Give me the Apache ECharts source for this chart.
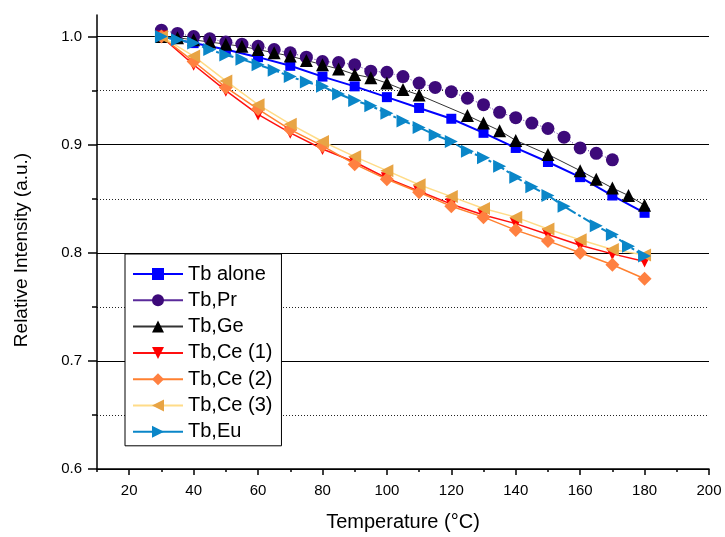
<!DOCTYPE html>
<html><head><meta charset="utf-8">
<script src="https://cdn.jsdelivr.net/npm/echarts@6/dist/echarts.min.js"></script>
<style>html,body{margin:0;padding:0;background:#fff}#c{width:725px;height:537px}</style>
</head><body><div id="c"></div>
<script>
const seriesNames = ['Tb alone','Tb,Pr','Tb,Ge','Tb,Ce (1)','Tb,Ce (2)','Tb,Ce (3)','Tb,Eu'];
const xTickLabels = [20,40,60,80,100,120,140,160,180,200];
const xMinorTicks = [10,30,50,70,90,110,130,150,170,190];
const yTickLabels = [0.6,0.7,0.8,0.9,1.0];
const yMinorTicks = [0.65,0.75,0.85,0.95];

const tbAloneX = [30,40,50,60,70,80,90,100,110,120,130,140,150,160,170,180];
const tbAloneY = [1.000,0.994,0.988,0.981,0.973,0.963,0.954,0.944,0.934,0.924,0.911,0.897,0.884,0.870,0.853,0.837];

const prX = [30,35,40,45,50,55,60,65,70,75,80,85,90,95,100,105,110,115,120,125,130,135,140,145,150,155,160,165,170];
const prY = [1.006,1.003,1.000,0.998,0.995,0.993,0.991,0.988,0.985,0.981,0.977,0.976,0.974,0.968,0.967,0.963,0.957,0.953,0.949,0.943,0.937,0.930,0.925,0.920,0.915,0.907,0.897,0.892,0.886];

const geX = [30,35,40,45,50,55,60,65,70,75,80,85,90,95,100,105,110,125,130,135,140,150,160,165,170,175,180];
const geY = [1.000,0.999,0.997,0.995,0.993,0.991,0.988,0.985,0.982,0.978,0.974,0.970,0.965,0.962,0.957,0.951,0.946,0.927,0.920,0.913,0.904,0.891,0.876,0.868,0.860,0.853,0.844];

const ceX = [30,40,50,60,70,80,90,100,110,120,130,140,150,160,170,180];
const ce1Y = [1.000,0.974,0.950,0.928,0.911,0.896,0.884,0.869,0.857,0.845,0.835,0.827,0.817,0.807,0.799,0.792];
const ce2Y = [1.000,0.977,0.953,0.933,0.914,0.899,0.882,0.868,0.856,0.843,0.833,0.821,0.811,0.800,0.789,0.776];
const ce3Y = [1.000,0.982,0.959,0.937,0.919,0.903,0.889,0.876,0.863,0.852,0.841,0.833,0.822,0.812,0.803,0.798];

const euX = [30,35,40,45,50,55,60,65,70,75,80,85,90,95,100,105,110,115,120,125,130,135,140,145,150,155,165,170,175,180];
const euY = [1.000,0.997,0.994,0.988,0.983,0.979,0.974,0.969,0.963,0.958,0.954,0.947,0.941,0.936,0.929,0.922,0.916,0.909,0.903,0.894,0.888,0.880,0.870,0.861,0.853,0.843,0.825,0.817,0.806,0.797];

const FONT = '"Liberation Sans", Arial, Helvetica, sans-serif';
function pts(xs, ys){ return xs.map((x,i)=>[x, ys[i]]); }
const TRI_DOWN = 'path://M0,0 L10,0 L5,9 Z';
const TRI_LEFT = 'path://M9,0 L9,10 L0,5 Z';
const TRI_RIGHT = 'path://M0,0 L9,5 L0,10 Z';

function mk(name, data, color, lineColor, symbol, size, width, type){
  return {
    name: name, type: 'line', data: data, xAxisIndex: 0, yAxisIndex: 0,
    symbol: symbol, symbolSize: size, showSymbol: true,
    itemStyle: {color: color, opacity: 1},
    lineStyle: {color: lineColor, width: width, type: type || 'solid'},
    emphasis: {disabled: true}, animation: false
  };
}

const chart = echarts.init(document.getElementById('c'));
chart.setOption({
  backgroundColor: '#fff',
  animation: false,
  grid: {left: 97, right: 16, top: 15, bottom: 66},
  xAxis: [
    {type: 'value', min: 10, max: 200, position: 'bottom',
     name: 'Temperature (\u00B0C)', nameLocation: 'middle', nameGap: 43,
     nameTextStyle: {fontFamily: FONT, fontSize: 20, color: '#000'},
     axisLine: {show: true, lineStyle: {color: '#000', width: 1.5}},
     axisTick: {show: true, length: 6, customValues: xTickLabels, lineStyle: {color: '#000', width: 1.5}},
     axisLabel: {customValues: xTickLabels, fontFamily: FONT, fontSize: 15, color: '#000', margin: 14},
     splitLine: {show: false}},
    {type: 'value', min: 10, max: 200, position: 'bottom',
     axisLine: {show: false},
     axisTick: {show: true, length: 3, customValues: xMinorTicks, lineStyle: {color: '#000', width: 1.5}},
     axisLabel: {show: false}, splitLine: {show: false}}
  ],
  yAxis: [
    {type: 'value', min: 0.6, max: 1.02, position: 'left',
     name: 'Relative Intensity (a.u.)', nameLocation: 'middle', nameGap: 66, nameRotate: 90,
     nameTextStyle: {fontFamily: FONT, fontSize: 19, color: '#000', padding: [0, 16, 0, 0]},
     axisLine: {show: true, lineStyle: {color: '#000', width: 1.5}},
     axisTick: {show: true, length: 9, customValues: yTickLabels, lineStyle: {color: '#000', width: 1.5}},
     axisLabel: {customValues: yTickLabels, formatter: v => Number(v).toFixed(1), fontFamily: FONT, fontSize: 15, color: '#000', margin: 15},
     splitLine: {show: true, lineStyle: {color: '#000', width: 1, type: 'solid'}}},
    {type: 'value', min: 0.6, max: 1.02, position: 'left',
     axisLine: {show: false},
     axisTick: {show: true, length: 5, customValues: yMinorTicks, lineStyle: {color: '#000', width: 1.5}},
     axisLabel: {show: false},
     splitLine: {show: true, lineStyle: {color: '#222', width: 1, type: [1, 2]}}}
  ],
  legend: {
    show: true, orient: 'vertical', left: 125, top: 254,
    data: seriesNames,
    itemWidth: 50, itemHeight: 15, itemGap: 6.3,
    backgroundColor: '#fff', borderColor: '#000', borderWidth: 1,
    padding: [10, 9, 4, 7],
    lineStyle: {type: 'solid'},
    textStyle: {fontFamily: FONT, fontSize: 20, color: '#000', lineHeight: 20},
    selectedMode: false
  },
  series: [
    mk(seriesNames[0], pts(tbAloneX, tbAloneY), '#0000ff', '#0000ff', 'rect', 10, 2),
    mk(seriesNames[1], pts(prX, prY), '#3d0a7a', '#5a2a9a', 'circle', 13, 1, [1, 2]),
    mk(seriesNames[2], pts(geX, geY), '#000000', '#333333', 'triangle', 13, 1),
    mk(seriesNames[3], pts(ceX, ce1Y), '#ff0000', '#ff1010', TRI_DOWN, 12, 1.5),
    mk(seriesNames[4], pts(ceX, ce2Y), '#ff8040', '#ff8030', 'diamond', 14, 1.5),
    mk(seriesNames[5], pts(ceX, ce3Y), '#e8a444', '#ffdc88', TRI_LEFT, 13, 1.5),
    mk(seriesNames[6], pts(euX, euY), '#0a86c8', '#0a86c8', TRI_RIGHT, 13, 2, [12, 3, 3, 3])
  ]
});
</script></body></html>
